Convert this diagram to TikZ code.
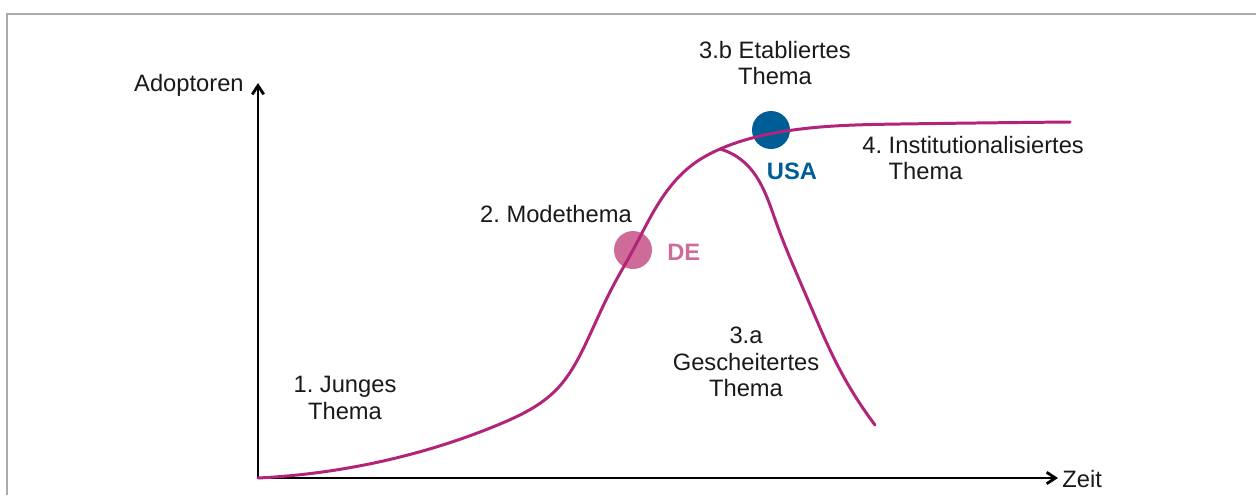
\documentclass[tikz,border=0pt]{standalone}
\usepackage{fontspec}
\setmainfont{Liberation Sans}
\usetikzlibrary{arrows.meta,positioning,hobby}
\definecolor{curvecol}{RGB}{178,36,122}
\definecolor{decol}{RGB}{207,107,152}
\definecolor{usacol}{RGB}{0,94,150}
\definecolor{framecol}{RGB}{170,170,176}
\frenchspacing
\begin{document}
\begin{tikzpicture}[x=0.02cm,y=-0.02cm,
  lbl/.style={font=\fontsize{13.5}{15}\selectfont, text=black!90, align=center, inner sep=0pt},
  axis/.style={line width=1.6pt, -{Straight Barb[length=5pt,width=6.5pt]}},
  phase/.style={curvecol, line width=1.7pt, line cap=round},
  marker/.style={circle, minimum size=0.76cm, inner sep=0pt}]
\useasboundingbox (0,0) rectangle (1256,495);
\draw[framecol, line width=1.2pt] (7,495) -- (7,14) -- (1256,14);
% axes
\coordinate (O) at (258,478); \coordinate (Y) at (258,83); \coordinate (X) at (1058,478);
\draw[axis] (O) -- (Y);
\draw[axis] (O) -- (X);
\node[lbl, anchor=east] (ylab) at (244,85) {Adoptoren};
\node[lbl, anchor=west] (xlab) at (1062,479) {Zeit};
% markers
\node[marker, fill=decol] (de) at (633,250) {};
\node[marker, fill=usacol] (usa) at (771,130) {};
\node[lbl, font=\fontsize{13.5}{15}\selectfont\bfseries, text=decol, anchor=west] (delab) at (667,252) {DE};
\node[lbl, font=\fontsize{13.5}{15}\selectfont\bfseries, text=usacol] (usalab) at (792,171) {USA};
% curves
\coordinate (B) at (720,149);
\draw[phase, use Hobby shortcut] (O) .. (400,457) .. (500,424) .. (556,390) .. (586,343) .. (612,288) .. (633,250) .. (662,198) .. (692,165) .. (B) .. (780,132) .. (900,124) .. (1070,122);
\draw[phase, use Hobby shortcut] (B) .. (745,163) .. (776,222) .. (808,300) .. (840,370) .. (875,425);
% phase labels
\node[lbl] (p1) at (345,398) {1. Junges\\Thema};
\node[lbl] (p2) at (556,214) {2. Modethema};
\node[lbl] (p3a) at (746,362) {3.a\\Gescheitertes\\Thema};
\node[lbl] (p3b) at (775,63) {3.b Etabliertes\\Thema};
\node[lbl, align=left, anchor=north west] (p4) at (862,136) {4. Institutionalisiertes\\\phantom{4. }Thema};
\end{tikzpicture}
\end{document}
